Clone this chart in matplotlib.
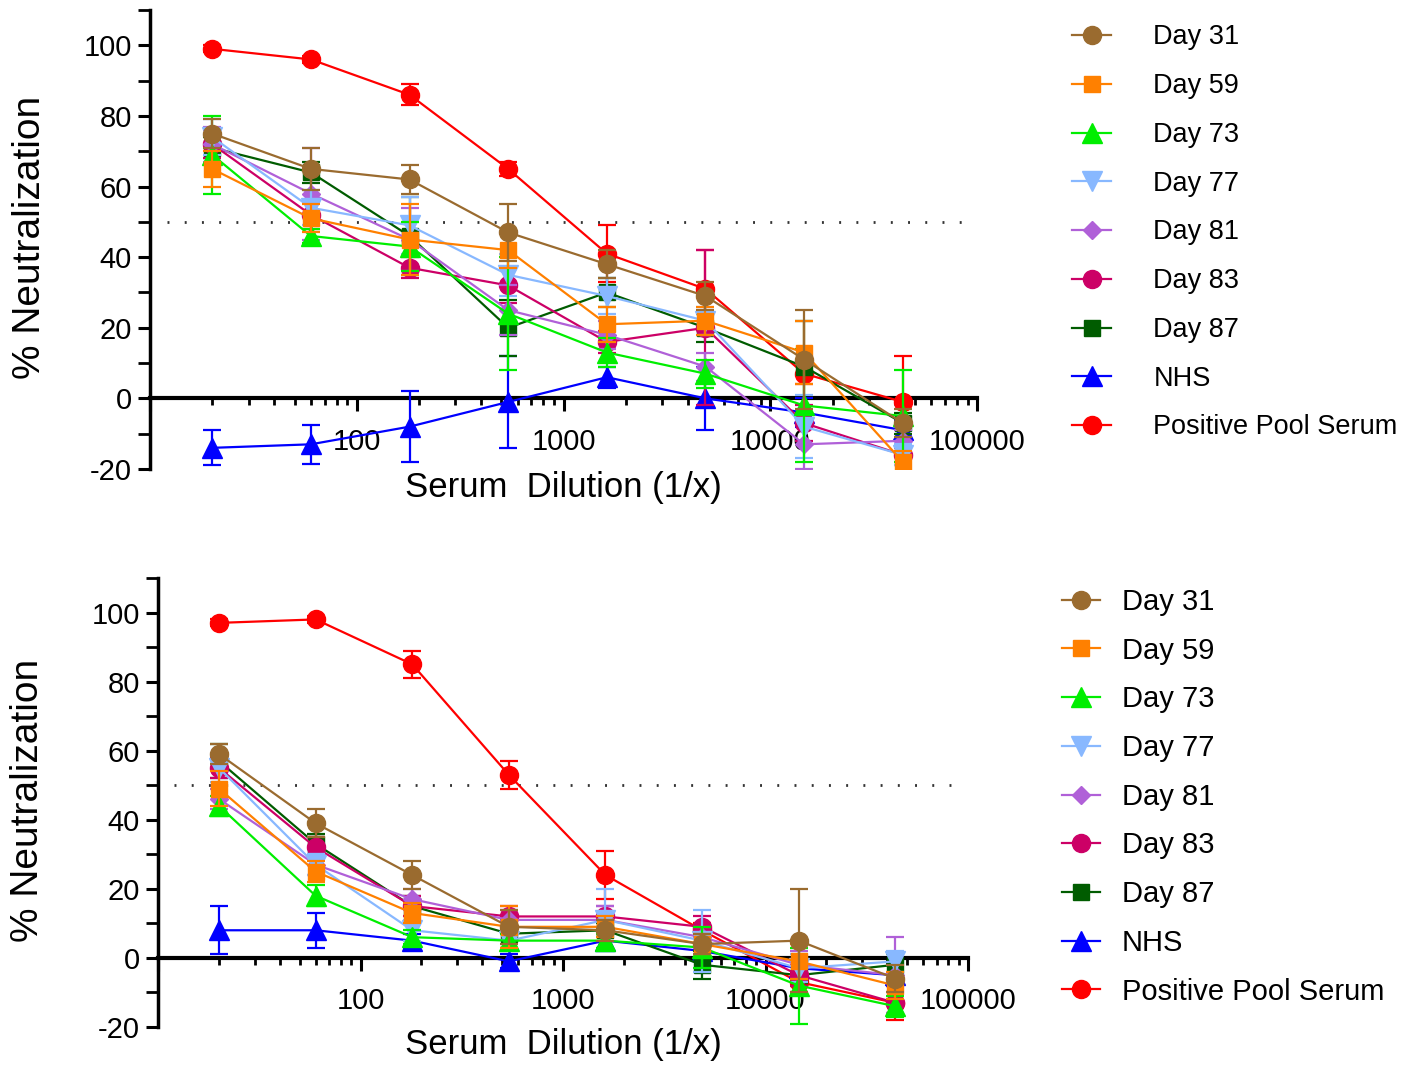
import matplotlib
matplotlib.use("Agg")
import matplotlib.pyplot as plt
import matplotlib.ticker as mticker
from matplotlib.lines import Line2D
import numpy as np

plt.rcParams['font.family'] = ['Liberation Sans', 'DejaVu Sans']
plt.rcParams['axes.unicode_minus'] = False

# serum dilutions (1/x), 3-fold series starting at 1:20
dilutions = [20, 60, 180, 540, 1620, 4860, 14580, 43740]

series_names = ["Day 31", "Day 59", "Day 73", "Day 77", "Day 81",
                "Day 83", "Day 87", "NHS", "Positive Pool Serum"]
series_colors = ["#9a6b2f", "#ff8000", "#00ee00", "#88b8ff", "#b060d8",
                 "#cc0066", "#005c00", "#0000ff", "#ff0000"]
series_markers = ["o", "s", "^", "v", "D", "o", "s", "^", "o"]

# top panel: mean % neutralization
top_means = [
    [75, 65, 62, 47, 38, 29, 11, -7],      # Day 31
    [65, 51, 45, 42, 21, 22, 13, -18],     # Day 59
    [69, 46, 43, 24, 13, 7, -2, -5],       # Day 73
    [74, 54, 49, 35, 29, 22, -8, -16],     # Day 77
    [72, 58, 45, 25, 18, 9, -13, -12],     # Day 81
    [72, 52, 37, 32, 16, 20, -7, -16],     # Day 83
    [71, 64, 46, 20, 30, 20, 9, -7],       # Day 87
    [-14, -13, -8, -1, 6, 0, -4, -9],      # NHS
    [99, 96, 86, 65, 41, 31, 7, -1],       # Positive Pool Serum
]
top_errs = [
    [4, 6, 4, 8, 4, 4, 14, 4],
    [5, 4, 10, 5, 5, 4, 9, 3],
    [11, 2, 7, 16, 4, 4, 16, 13],
    [5, 5, 8, 6, 5, 4, 9, 3],
    [5, 13, 9, 7, 4, 4, 7, 3],
    [4, 4, 3, 5, 3, 22, 5, 3],
    [3, 3, 11, 8, 4, 4, 13, 3],
    [5, 5.5, 10, 13, 3, 9, 4, 3],
    [1, 1, 3, 2, 8, 11, 3, 13],
]

# bottom panel
bot_means = [
    [59, 39, 24, 9, 8, 4, 5, -6],          # Day 31
    [49, 25, 13, 9, 9, 4, -1, -8],         # Day 59
    [44, 18, 6, 5, 5, 3, -8, -14],         # Day 73
    [55, 27, 8, 5, 11, 5, -3, -1],         # Day 77
    [46, 27, 17, 11, 11, 6, -2, -5],       # Day 81
    [55, 32, 15, 12, 12, 9, -5, -13],      # Day 83
    [57, 33, 15, 7, 8, -2, -5, -2],        # Day 87
    [8, 8, 5, -1, 5, 2, -3, -5],           # NHS
    [97, 98, 85, 53, 24, 8, -7, -13],      # Positive Pool Serum
]
bot_errs = [
    [3, 4, 4, 5, 3, 3, 15, 4],
    [5, 3, 3, 6, 3, 3, 5, 4],
    [3, 3, 2, 2, 2, 6, 11, 3],
    [4, 3, 3, 3, 9, 9, 4, 3],
    [3, 3, 3, 3, 4, 3, 4, 11],
    [3, 3, 3, 3, 3, 3, 3, 3],
    [5, 3, 3, 4, 2, 4, 3, 3],
    [7, 5, 2, 2, 2, 2, 2, 3],
    [1, 1, 4, 4, 7, 2, 3, 5],
]

msizes = {"o": 13, "s": 12, "^": 14, "v": 14, "D": 9.5}


def draw_panel(ax, means, errs, label_x, legend_anchor, legend_size,
               handle_len, text_pad, lab_space):
    handles = []
    n = len(series_names)
    for i in range(n):
        m = series_markers[i]
        ax.errorbar(dilutions, means[i], yerr=errs[i], color=series_colors[i],
                    marker=m, markersize=msizes[m], linewidth=1.6,
                    elinewidth=1.6, capsize=6.5, capthick=1.6,
                    zorder=10 + n - i)
        handles.append(Line2D([], [], color=series_colors[i], marker=m,
                              markersize=msizes[m], linewidth=1.6))

    # 50% neutralization reference
    ax.axhline(50, xmin=0.02, xmax=0.985, color="#333333", linewidth=2.0,
               linestyle=(0, (0.7, 5.5)), zorder=1)

    ax.set_xscale("log")
    ax.set_xlim(10, 100000)
    ax.set_ylim(-20, 110)

    for s in ["top", "right"]:
        ax.spines[s].set_visible(False)
    ax.spines["left"].set_linewidth(2.5)
    ax.spines["bottom"].set_position(("data", 0))
    ax.spines["bottom"].set_linewidth(3)
    ax.spines["left"].set_bounds(-20, 110)

    ax.xaxis.set_major_locator(mticker.FixedLocator([10, 100, 1000, 10000, 100000]))
    ax.xaxis.set_major_formatter(mticker.FixedFormatter(["", "100", "1000", "10000", "100000"]))
    ax.xaxis.set_minor_locator(mticker.LogLocator(base=10, subs=np.arange(2, 10), numticks=20))
    ax.xaxis.set_minor_formatter(mticker.NullFormatter())
    ax.tick_params(axis="x", which="major", direction="out", length=9, width=2.2,
                   pad=12, labelsize=21)
    ax.tick_params(axis="x", which="minor", direction="out", length=5, width=2.0)

    ax.set_yticks([-20, 0, 20, 40, 60, 80, 100])
    ax.yaxis.set_minor_locator(mticker.MultipleLocator(10))
    ax.tick_params(axis="y", which="major", direction="out", length=9, width=2.2,
                   pad=4, labelsize=21)
    ax.tick_params(axis="y", which="minor", direction="out", length=9, width=2.0)

    ax.set_xlabel("Serum  Dilution (1/x)", fontsize=25, va="center")
    ax.xaxis.set_label_coords(0.5, -0.04)
    ax.set_ylabel("% Neutralization", fontsize=28, va="center")
    ax.yaxis.set_label_coords(label_x, 0.505)

    ax.legend(handles=handles, labels=series_names, loc="upper left",
              bbox_to_anchor=legend_anchor, bbox_transform=ax.figure.transFigure,
              frameon=False, fontsize=legend_size, handlelength=handle_len,
              handletextpad=text_pad, labelspacing=lab_space, borderpad=0,
              borderaxespad=0)


fig = plt.figure(figsize=(14.15, 10.65), dpi=100)
ax_top = fig.add_axes([0.106, 0.5596, 0.5845, 0.431])
ax_bot = fig.add_axes([0.1117, 0.0357, 0.5724, 0.4216])

draw_panel(ax_top, top_means, top_errs, -0.145, (0.7576, 0.977), 19.5,
           1.45, 1.55, 0.84)
draw_panel(ax_bot, bot_means, bot_errs, -0.16, (0.7505, 0.448), 21,
           1.3, 0.75, 0.71)

fig.savefig("out.png", dpi=100)
